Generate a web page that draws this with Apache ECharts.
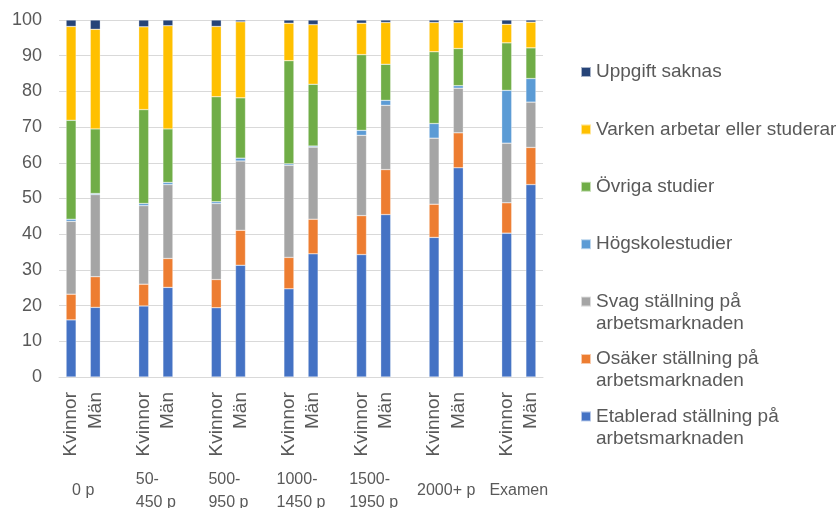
<!DOCTYPE html>
<html>
<head>
<meta charset="utf-8">
<script src="https://cdn.jsdelivr.net/npm/echarts@6/dist/echarts.min.js"></script>
<style>
  html, body { margin: 0; padding: 0; background: #ffffff; }
  #chart { width: 840px; height: 508px; }
</style>
</head>
<body>
<div id="chart"></div>
<script>
// Credit groups and the two bars drawn in each
const groups = ['0 p', '50-\n450 p', '500-\n950 p', '1000-\n1450 p', '1500-\n1950 p', '2000+ p', 'Examen'];
const genders = ['Kvinnor', 'Män'];

// Share (%) per bar, in order: Kvinnor, Män for each group
const etablerad = [16.0, 19.5, 19.9, 25.1, 19.4, 31.3, 24.7, 34.5, 34.3, 45.5, 39.1, 58.6, 40.3, 53.9];
const osaker    = [7.2, 8.6, 6.1, 8.1, 7.9, 9.8, 8.8, 9.7, 10.9, 12.6, 9.3, 9.8, 8.5, 10.4];
const svag      = [20.4, 23.0, 22.0, 20.7, 21.3, 19.4, 25.8, 20.2, 22.5, 18.0, 18.5, 12.5, 16.7, 12.7];
const hogskola  = [0.6, 0.3, 0.6, 0.6, 0.5, 0.8, 0.4, 0.3, 1.4, 1.4, 4.1, 0.7, 14.8, 6.6];
const ovriga    = [27.7, 18.1, 26.3, 15.0, 29.4, 16.9, 28.9, 17.3, 21.2, 10.1, 20.1, 10.4, 13.3, 8.6];
const varken    = [26.3, 27.9, 23.2, 28.9, 19.7, 21.3, 10.5, 16.7, 8.8, 11.7, 8.2, 7.3, 5.2, 7.2];
const saknas    = [1.8, 2.6, 1.9, 1.6, 1.8, 0.5, 0.9, 1.3, 0.9, 0.7, 0.7, 0.7, 1.2, 0.6];

// Value axis ticks
const yMin = 0, yMax = 100, yStep = 10;

const seriesNames = [
  'Etablerad ställning på arbetsmarknaden',
  'Osäker ställning på arbetsmarknaden',
  'Svag ställning på arbetsmarknaden',
  'Högskolestudier',
  'Övriga studier',
  'Varken arbetar eller studerar',
  'Uppgift saknas'
];
const legendLabels = {
  'Etablerad ställning på arbetsmarknaden': 'Etablerad ställning på\narbetsmarknaden',
  'Osäker ställning på arbetsmarknaden': 'Osäker ställning på\narbetsmarknaden',
  'Svag ställning på arbetsmarknaden': 'Svag ställning på\narbetsmarknaden'
};
const seriesValues = [etablerad, osaker, svag, hogskola, ovriga, varken, saknas];
const colors = ['#4472C4', '#ED7D31', '#A5A5A5', '#5B9BD5', '#70AD47', '#FFC000', '#264478'];

const FONT = '"Liberation Sans", Arial, sans-serif';
const TEXT = '#595959';

// Category slots: Kvinnor, Män, then an empty spacer slot between groups
const slots = [];
const slotIndex = [];
groups.forEach((g, gi) => {
  genders.forEach(s => { slotIndex.push(slots.length); slots.push(s); });
  if (gi < groups.length - 1) slots.push('');
});
function spread(values) {
  const out = slots.map(() => '-');
  values.forEach((v, i) => { out[slotIndex[i]] = v; });
  return out;
}

// Group labels sit midway between the two bars of a group (half-slot grid)
const halfSlots = [];
for (let i = 0; i <= slots.length * 2; i++) halfSlots.push('');
groups.forEach((g, gi) => {
  const label = g.indexOf('\n') >= 0 ? g.split('\n').map(l => '{g|' + l + '}').join('\n') : g;
  halfSlots[2 * (3 * gi + 1)] = label;
});

// Legend entries: the first text line is kept level with the colour key
function legendText(name) {
  const wrapped = legendLabels[name];
  return wrapped ? '\n' + wrapped : '\n' + name + '\n';
}

const chart = echarts.init(document.getElementById('chart'), null, { renderer: 'canvas' });

chart.setOption({
  animation: false,
  backgroundColor: '#ffffff',
  textStyle: { fontFamily: FONT },
  grid: { left: 59, right: 297, top: 20, bottom: 131, containLabel: false, outerBoundsMode: 'none' },
  xAxis: [
    {
      type: 'category',
      data: slots,
      boundaryGap: true,
      axisLine: { show: true, lineStyle: { color: '#D9D9D9', width: 1 } },
      axisTick: { show: false },
      axisLabel: {
        interval: 0, rotate: 90, margin: 15,
        fontSize: 19, color: TEXT, fontFamily: FONT
      },
      splitLine: { show: false }
    },
    {
      type: 'category',
      data: halfSlots,
      boundaryGap: false,
      position: 'bottom',
      axisLine: { show: false },
      axisTick: { show: false },
      axisLabel: {
        interval: 0, margin: 114, verticalAlign: 'middle',
        fontSize: 16, lineHeight: 23, color: TEXT, fontFamily: FONT,
        rich: { g: { align: 'left', fontSize: 16, lineHeight: 23, color: TEXT, fontFamily: FONT } }
      },
      splitLine: { show: false }
    }
  ],
  yAxis: {
    type: 'value',
    min: yMin, max: yMax, interval: yStep,
    axisLine: { show: false },
    axisTick: { show: false },
    axisLabel: { margin: 17, fontSize: 18, color: TEXT, fontFamily: FONT },
    splitLine: { show: true, lineStyle: { color: '#D9D9D9', width: 1 } }
  },
  legend: {
    orient: 'vertical',
    left: 580,
    top: 39,
    padding: 0,
    itemGap: -8.6,
    itemWidth: 10,
    itemHeight: 10,
    icon: 'rect',
    selectedMode: false,
    formatter: legendText,
    textStyle: { fontSize: 19, lineHeight: 22, color: TEXT, fontFamily: FONT },
    data: seriesNames.slice().reverse()
  },
  series: seriesNames.map((name, i) => ({
    name: name,
    type: 'bar',
    stack: 'total',
    xAxisIndex: 0,
    barWidth: 10,
    data: spread(seriesValues[i]),
    itemStyle: { color: colors[i], borderColor: 'rgba(255,255,255,0.6)', borderWidth: 0.5 },
    emphasis: { disabled: true }
  }))
});
</script>
</body>
</html>
